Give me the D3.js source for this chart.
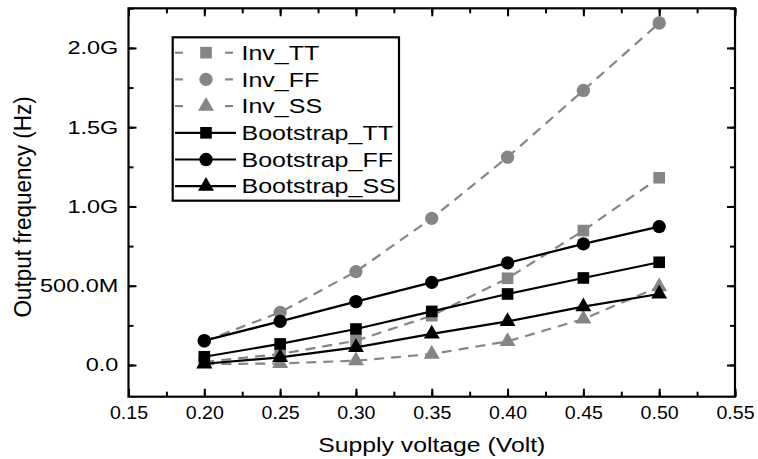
<!DOCTYPE html>
<html>
<head>
<meta charset="utf-8">
<script src="https://cdn.jsdelivr.net/npm/d3@7"></script>
<style>
  html, body { margin: 0; padding: 0; background: #fff; }
  text { font-family: "Liberation Sans", Arial, sans-serif; fill: #000; }
</style>
</head>
<body>
<svg width="758" height="459"></svg>
<script>
// supply voltage (V)
const voltages = [0.20, 0.25, 0.30, 0.35, 0.40, 0.45, 0.50];

// output frequency (Hz)
const invTT  = [20e6, 69e6, 153e6, 311e6, 547e6, 848e6, 1181e6];
const invFF  = [150e6, 332e6, 589e6, 925e6, 1311e6, 1732e6, 2157e6];
const invSS  = [5e6, 10e6, 27e6, 69e6, 149e6, 290e6, 494e6];
const bootTT = [52e6, 133e6, 227e6, 338e6, 448e6, 549e6, 648e6];
const bootFF = [154e6, 275e6, 400e6, 521e6, 644e6, 764e6, 873e6];
const bootSS = [8e6, 48e6, 111e6, 196e6, 275e6, 368e6, 448e6];

const seriesNames = ["Inv_TT", "Inv_FF", "Inv_SS", "Bootstrap_TT", "Bootstrap_FF", "Bootstrap_SS"];

const xTicks = [0.15, 0.20, 0.25, 0.30, 0.35, 0.40, 0.45, 0.50, 0.55];
const xTickLabels = ["0.15", "0.20", "0.25", "0.30", "0.35", "0.40", "0.45", "0.50", "0.55"];
const yTicks = [0, 0.5e9, 1.0e9, 1.5e9, 2.0e9];
const yTickLabels = ["0.0", "500.0M", "1.0G", "1.5G", "2.0G"];

let svg = d3.select("svg"),
    width = +svg.attr("width"),
    height = +svg.attr("height"),
    margin = {top: 8.3, right: 23, bottom: 62.3, left: 128.5};

let x = d3.scaleLinear().domain([0.15, 0.55]).range([margin.left, width - margin.right]);
let y = d3.scaleLinear().domain([-0.2e9, 2.25e9]).range([height - margin.bottom, margin.top]);

const gray = "#858585";
const series = [
  {name: seriesNames[0], values: invTT,  color: gray,   dashed: true,  shape: d3.symbolSquare,   size: 135},
  {name: seriesNames[1], values: invFF,  color: gray,   dashed: true,  shape: d3.symbolCircle,   size: 140},
  {name: seriesNames[2], values: invSS,  color: gray,   dashed: true,  shape: d3.symbolTriangle, size: 110},
  {name: seriesNames[3], values: bootTT, color: "#000", dashed: false, shape: d3.symbolSquare,   size: 135},
  {name: seriesNames[4], values: bootFF, color: "#000", dashed: false, shape: d3.symbolCircle,   size: 140},
  {name: seriesNames[5], values: bootSS, color: "#000", dashed: false, shape: d3.symbolTriangle, size: 110}
];

// lines + markers
let line = d3.line().x(d => x(d[0])).y(d => y(d[1]));
let g = svg.append("g");
series.forEach(s => {
  let pts = voltages.map((v, i) => [v, s.values[i]]);
  g.append("path")
    .attr("d", line(pts))
    .attr("fill", "none")
    .attr("stroke", s.color)
    .attr("stroke-width", 2.2)
    .attr("stroke-dasharray", s.dashed ? "10,7" : null);
  g.selectAll(null)
    .data(pts)
    .enter().append("path")
    .attr("transform", d => "translate(" + x(d[0]) + "," + y(d[1]) + ")")
    .attr("d", d3.symbol().type(s.shape).size(s.size))
    .attr("fill", s.color);
});

// assen, ticks naar binnen
function styleAxis(sel) {
  sel.select(".domain").remove();
  sel.selectAll("line").attr("stroke", "#000").attr("stroke-width", 2);
}

let yBottom = height - margin.bottom, yTop = margin.top, xLeft = margin.left, xRight = width - margin.right;

let xMinor = d3.range(0, 17).map(i => 0.15 + i * 0.025);
let yMinor = d3.range(0, 10).map(i => i * 0.25e9);

svg.append("g").attr("transform", "translate(0," + yBottom + ")")
  .call(d3.axisBottom(x).tickValues(xMinor).tickSize(-5).tickFormat(""))
  .call(styleAxis);
svg.append("g").attr("transform", "translate(0," + yTop + ")")
  .call(d3.axisTop(x).tickValues(xMinor).tickSize(-5).tickFormat(""))
  .call(styleAxis);
svg.append("g").attr("transform", "translate(" + xLeft + ",0)")
  .call(d3.axisLeft(y).tickValues(yMinor).tickSize(-5).tickFormat(""))
  .call(styleAxis);
svg.append("g").attr("transform", "translate(" + xRight + ",0)")
  .call(d3.axisRight(y).tickValues(yMinor).tickSize(-5).tickFormat(""))
  .call(styleAxis);

let xAxis = svg.append("g").attr("transform", "translate(0," + yBottom + ")")
  .call(d3.axisBottom(x).tickValues(xTicks).tickSize(-8).tickPadding(10)
    .tickFormat((d, i) => xTickLabels[i]))
  .call(styleAxis);
xAxis.selectAll("text").attr("font-size", 18).attr("font-family", null).attr("transform", "scale(1.09,1)");

svg.append("g").attr("transform", "translate(0," + yTop + ")")
  .call(d3.axisTop(x).tickValues(xTicks).tickSize(-8).tickFormat(""))
  .call(styleAxis);

let yAxis = svg.append("g").attr("transform", "translate(" + xLeft + ",0)")
  .call(d3.axisLeft(y).tickValues(yTicks).tickSize(-8).tickPadding(8)
    .tickFormat((d, i) => yTickLabels[i]))
  .call(styleAxis);
yAxis.selectAll("text").attr("font-size", 18.5).attr("font-family", null).attr("transform", "scale(1.27,1)");

svg.append("g").attr("transform", "translate(" + xRight + ",0)")
  .call(d3.axisRight(y).tickValues(yTicks).tickSize(-8).tickFormat(""))
  .call(styleAxis);

// frame
svg.append("rect")
  .attr("x", xLeft).attr("y", yTop)
  .attr("width", xRight - xLeft).attr("height", yBottom - yTop)
  .attr("fill", "none").attr("stroke", "#000").attr("stroke-width", 2.2);

// axis titles
svg.append("text")
  .attr("transform", "translate(" + ((xLeft + xRight) / 2) + ",451.5) scale(1.18,1)")
  .attr("text-anchor", "middle")
  .attr("font-size", 21)
  .text("Supply voltage (Volt)");

svg.append("text")
  .attr("transform", "translate(31,207) rotate(-90) scale(1,1.1)")
  .attr("text-anchor", "middle")
  .attr("font-size", 22.5)
  .text("Output frequency (Hz)");

// legend
let legend = svg.append("g");
legend.append("rect")
  .attr("x", 172.7).attr("y", 37.3)
  .attr("width", 226.3).attr("height", 163.4)
  .attr("fill", "#fff").attr("stroke", "#000").attr("stroke-width", 2.2);

let rows = legend.selectAll("g.row")
  .data(series)
  .enter().append("g")
  .attr("class", "row")
  .attr("transform", (d, i) => "translate(0," + (52.7 + i * 26.7) + ")");

rows.each(function (s) {
  let r = d3.select(this);
  if (s.dashed) {
    r.append("line").attr("x1", 175).attr("x2", 183).attr("stroke", s.color).attr("stroke-width", 2.2);
    r.append("line").attr("x1", 225).attr("x2", 233).attr("stroke", s.color).attr("stroke-width", 2.2);
  } else {
    r.append("line").attr("x1", 175).attr("x2", 236).attr("stroke", s.color).attr("stroke-width", 2.2);
  }
  r.append("path")
    .attr("transform", "translate(206,0)")
    .attr("d", d3.symbol().type(s.shape).size(s.size))
    .attr("fill", s.color);
  r.append("text")
    .attr("transform", "translate(241.5,0) scale(1.22,1)")
    .attr("dy", "0.35em")
    .attr("font-size", 20.5)
    .text(s.name);
});
</script>
</body>
</html>
